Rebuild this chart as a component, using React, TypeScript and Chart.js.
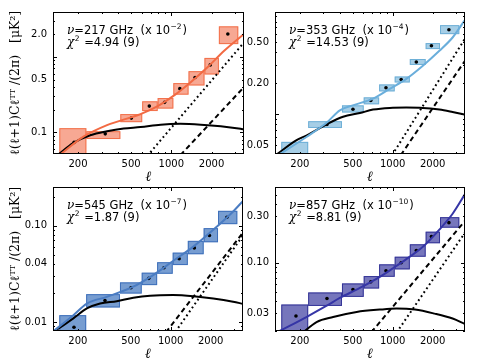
import React, { useEffect, useRef } from "react";
import { Chart, registerables } from "chart.js";

Chart.register(...registerables);

// ---- shared multipole binning ----
const binEdges = [145, 231, 415, 605, 790, 1035, 1345, 1770, 2270, 3170];
const binCenters = [187, 320, 502, 684, 890, 1158, 1505, 1956, 2649];
const xTicks = [200, 500, 1000, 2000];

// ---- 217 GHz ----
const p217Lo = [0.035, 0.082, 0.137, 0.192, 0.207, 0.316, 0.418, 0.584, 1.47];
const p217Hi = [0.114, 0.104, 0.175, 0.258, 0.285, 0.449, 0.645, 0.965, 2.52];
const p217Val = [0.074, 0.096, 0.155, 0.223, 0.25, 0.379, 0.533, 0.781, 2.0];
const p217ModelL = [145, 220, 330, 588, 784, 1049, 1396, 1865, 2487, 3500];
const p217ModelV = [0.05, 0.088, 0.125, 0.175, 0.221, 0.309, 0.462, 0.726, 1.2, 2.0];
const p217BlackL = [140, 185, 247, 330, 440, 588, 831, 1170, 1660, 2344, 3300, 3500];
const p217BlackV = [0.05, 0.073, 0.092, 0.104, 0.113, 0.118, 0.127, 0.13, 0.127, 0.121, 0.112, 0.11];
const p217DashL = [1170, 3500];
const p217DashV = [0.0503, 0.398];
const p217DotL = [660, 3500];
const p217DotV = [0.049, 1.545];
const p217YTicks = [0.1, 0.5, 2.0];
const p217YLabels = ["0.1", "0.5", "2.0"];

// ---- 353 GHz ----
const p353Lo = [0.03, 0.0735, 0.104, 0.125, 0.167, 0.204, 0.302, 0.431, 0.603];
const p353Hi = [0.0538, 0.0855, 0.122, 0.146, 0.195, 0.233, 0.345, 0.493, 0.737];
const p353Val = [0.04, 0.0794, 0.112, 0.136, 0.181, 0.218, 0.323, 0.464, 0.664];
const p353ModelL = [138, 224, 316, 400, 500, 711, 950, 1266, 1686, 2245, 2824, 3500];
const p353ModelV = [0.04, 0.06, 0.0821, 0.109, 0.122, 0.142, 0.177, 0.221, 0.297, 0.415, 0.559, 0.83];
const p353BlackL = [135, 189, 224, 316, 423, 566, 711, 950, 1266, 1686, 2245, 2824, 3500];
const p353BlackV = [0.041, 0.056, 0.062, 0.0794, 0.0944, 0.1027, 0.111, 0.1153, 0.116, 0.1153, 0.111, 0.105, 0.099];
const p353DashL = [1150, 3500];
const p353DashV = [0.04, 0.332];
const p353DotL = [990, 3500];
const p353DotV = [0.04, 0.545];
const p353YTicks = [0.05, 0.2, 0.5];
const p353YLabels = ["0.05", "0.20", "0.50"];

// ---- 545 GHz ----
const p545Lo = [0.006, 0.01413, 0.0197, 0.0241, 0.0316, 0.0389, 0.0504, 0.0671, 0.1034];
const p545Hi = [0.01175, 0.0194, 0.0257, 0.0324, 0.0416, 0.0523, 0.0693, 0.0939, 0.142];
const p545Val = [0.0088, 0.0167, 0.0226, 0.0283, 0.0365, 0.0453, 0.0586, 0.0787, 0.122];
const p545ModelL = [128, 185, 234, 330, 523, 738, 1040, 1480, 2090, 2950, 3500];
const p545ModelV = [0.0078, 0.01175, 0.0155, 0.0182, 0.0232, 0.0306, 0.0428, 0.0604, 0.0902, 0.14, 0.18];
const p545BlackL = [130, 185, 234, 294, 393, 523, 700, 1040, 1480, 2090, 2950, 3500];
const p545BlackV = [0.0078, 0.0109, 0.0138, 0.0155, 0.0164, 0.0178, 0.0187, 0.019, 0.0185, 0.0175, 0.0162, 0.0154];
const p545DashL = [920, 3500];
const p545DashV = [0.0078, 0.0845];
const p545DotL = [1085, 3500];
const p545DotV = [0.0079, 0.0792];
const p545YTicks = [0.01, 0.04, 0.1];
const p545YLabels = ["0.01", "0.04", "0.10"];

// ---- 857 GHz ----
const p857Lo = [0.015, 0.0359, 0.0445, 0.0543, 0.0717, 0.0855, 0.1154, 0.159, 0.23];
const p857Hi = [0.0371, 0.0494, 0.0612, 0.0729, 0.0963, 0.1154, 0.155, 0.209, 0.295];
const p857Val = [0.0283, 0.0428, 0.053, 0.0636, 0.0827, 0.1, 0.134, 0.186, 0.259];
const p857ModelL = [141, 224, 316, 400, 566, 800, 1000, 1266, 1686, 2245, 2824, 3500];
const p857ModelV = [0.0198, 0.0276, 0.0359, 0.0434, 0.0551, 0.0717, 0.0875, 0.109, 0.146, 0.22, 0.32, 0.51];
const p857BlackL = [205, 267, 356, 535, 800, 1067, 1470, 2066, 2824, 3500];
const p857BlackV = [0.0185, 0.0245, 0.0276, 0.0311, 0.0329, 0.0337, 0.0329, 0.0299, 0.0266, 0.0234];
const p857DashL = [690, 3500];
const p857DashV = [0.0192, 0.27];
const p857DotL = [1070, 3500];
const p857DotV = [0.0191, 0.2045];
const p857YTicks = [0.03, 0.1, 0.3];
const p857YLabels = ["0.03", "0.10", "0.30"];

const X_MIN = 130;
const X_MAX = 3500;

type Panel = {
  rect: [number, number, number, number];
  yMin: number;
  yMax: number;
  yTicks: number[];
  yLabels: string[];
  line: string;
  fill: string;
  edge: string;
  lo: number[];
  hi: number[];
  val: number[];
  modelL: number[];
  modelV: number[];
  blackL: number[];
  blackV: number[];
  dashL: number[];
  dashV: number[];
  dotL: number[];
  dotV: number[];
  freq: string;
  exp: string;
  chi: string;
  yTitle: boolean;
};

const panels: Panel[] = [
  {
    rect: [53, 11, 244, 154], yMin: 0.052, yMax: 3.9, yTicks: p217YTicks, yLabels: p217YLabels,
    line: "#f26a43", fill: "rgba(242,110,75,0.6)", edge: "rgba(242,106,67,0.9)",
    lo: p217Lo, hi: p217Hi, val: p217Val, modelL: p217ModelL, modelV: p217ModelV,
    blackL: p217BlackL, blackV: p217BlackV, dashL: p217DashL, dashV: p217DashV, dotL: p217DotL, dotV: p217DotV,
    freq: "217", exp: "\u22122", chi: "4.94 (9)", yTitle: true,
  },
  {
    rect: [275, 11, 465, 154], yMin: 0.041, yMax: 0.99, yTicks: p353YTicks, yLabels: p353YLabels,
    line: "#6aaedb", fill: "rgba(107,174,214,0.6)", edge: "rgba(107,174,214,0.95)",
    lo: p353Lo, hi: p353Hi, val: p353Val, modelL: p353ModelL, modelV: p353ModelV,
    blackL: p353BlackL, blackV: p353BlackV, dashL: p353DashL, dashV: p353DashV, dotL: p353DotL, dotV: p353DotV,
    freq: "353", exp: "\u22124", chi: "14.53 (9)", yTitle: false,
  },
  {
    rect: [53, 187, 243, 331], yMin: 0.00805, yMax: 0.251, yTicks: p545YTicks, yLabels: p545YLabels,
    line: "#4a7cc2", fill: "rgba(74,124,194,0.75)", edge: "rgba(60,110,185,0.95)",
    lo: p545Lo, hi: p545Hi, val: p545Val, modelL: p545ModelL, modelV: p545ModelV,
    blackL: p545BlackL, blackV: p545BlackV, dashL: p545DashL, dashV: p545DashV, dotL: p545DotL, dotV: p545DotV,
    freq: "545", exp: "\u22127", chi: "1.87 (9)", yTitle: true,
  },
  {
    rect: [275, 187, 465, 331], yMin: 0.0198, yMax: 0.604, yTicks: p857YTicks, yLabels: p857YLabels,
    line: "#3535a6", fill: "rgba(60,60,160,0.7)", edge: "rgba(50,50,150,0.95)",
    lo: p857Lo, hi: p857Hi, val: p857Val, modelL: p857ModelL, modelV: p857ModelV,
    blackL: p857BlackL, blackV: p857BlackV, dashL: p857DashL, dashV: p857DashV, dotL: p857DotL, dotV: p857DotV,
    freq: "857", exp: "\u221210", chi: "8.81 (9)", yTitle: false,
  },
];

const xy = (L: number[], V: number[]) => L.map((l, i) => ({ x: l, y: V[i] }));

function makeConfig(p: Panel): any {
  const [L, T, R, B] = p.rect;
  const boxPlugin = {
    id: "boxes",
    beforeDatasetsDraw(chart: any) {
      const { ctx, chartArea, scales } = chart;
      ctx.save();
      ctx.beginPath();
      ctx.rect(chartArea.left, chartArea.top, chartArea.right - chartArea.left, chartArea.bottom - chartArea.top);
      ctx.clip();
      for (let i = 0; i < binCenters.length; i++) {
        const x0 = scales.x.getPixelForValue(binEdges[i]);
        const x1 = scales.x.getPixelForValue(binEdges[i + 1]);
        const y0 = scales.y.getPixelForValue(p.hi[i]);
        const y1 = scales.y.getPixelForValue(p.lo[i]);
        ctx.fillStyle = p.fill;
        ctx.fillRect(x0, y0, x1 - x0, y1 - y0);
        ctx.strokeStyle = p.edge;
        ctx.lineWidth = 1;
        ctx.strokeRect(x0 + 0.5, y0 + 0.5, x1 - x0 - 1, y1 - y0 - 1);
      }
      ctx.restore();
    },
  };
  const framePlugin = {
    id: "frame",
    afterDraw(chart: any) {
      const { ctx, chartArea, scales } = chart;
      const { left, top, right, bottom } = chartArea;
      ctx.save();
      ctx.strokeStyle = "#000";
      ctx.lineWidth = 1;
      ctx.strokeRect(left + 0.5, top + 0.5, right - left - 1, bottom - top - 1);
      ctx.beginPath();
      for (const d of [100, 1000]) {
        for (let m = 1; m <= 9; m++) {
          const v = m * d;
          if (v < X_MIN || v > X_MAX) continue;
          const px = Math.round(scales.x.getPixelForValue(v)) + 0.5;
          const len = m === 1 ? 4 : 2;
          ctx.moveTo(px, bottom);
          ctx.lineTo(px, bottom - len);
          ctx.moveTo(px, top);
          ctx.lineTo(px, top + len);
        }
      }
      for (const d of [0.001, 0.01, 0.1, 1]) {
        for (let m = 1; m <= 9; m++) {
          const v = m * d;
          if (v < p.yMin || v > p.yMax) continue;
          const py = Math.round(scales.y.getPixelForValue(v)) + 0.5;
          const len = m === 1 ? 4 : 2;
          ctx.moveTo(left, py);
          ctx.lineTo(left + len, py);
          ctx.moveTo(right, py);
          ctx.lineTo(right - len, py);
        }
      }
      ctx.stroke();
      // annotation
      const x0 = left + 14;
      const y1 = top + 22;
      const y2 = top + 34;
      ctx.fillStyle = "#000";
      ctx.textBaseline = "alphabetic";
      ctx.textAlign = "left";
      let cx = x0;
      ctx.font = "italic 12px 'DejaVu Serif'";
      ctx.fillText("\u03bd", cx, y1);
      cx += ctx.measureText("\u03bd").width;
      ctx.font = "11.5px 'DejaVu Sans'";
      const s1 = "=" + p.freq + " GHz  (x 10";
      ctx.fillText(s1, cx, y1);
      cx += ctx.measureText(s1).width + 0.5;
      ctx.font = "7.5px 'DejaVu Sans'";
      ctx.fillText(p.exp, cx, y1 - 5);
      cx += ctx.measureText(p.exp).width + 1;
      ctx.font = "11.5px 'DejaVu Sans'";
      ctx.fillText(")", cx, y1);
      cx = x0;
      ctx.font = "italic 12px 'DejaVu Serif'";
      ctx.fillText("\u03c7", cx, y2);
      cx += ctx.measureText("\u03c7").width + 0.5;
      ctx.font = "7.5px 'DejaVu Sans'";
      ctx.fillText("2", cx, y2 - 5);
      cx += ctx.measureText("2").width + 1;
      ctx.font = "11.5px 'DejaVu Sans'";
      ctx.fillText(" =" + p.chi, cx, y2);
      ctx.restore();
    },
  };
  return {
    type: "scatter",
    data: {
      datasets: [
        { type: "line", data: xy(p.modelL, p.modelV), borderColor: p.line, borderWidth: 2, pointRadius: 0, cubicInterpolationMode: "monotone", clip: 0 },
        { type: "line", data: xy(p.blackL, p.blackV), borderColor: "#000", borderWidth: 2, pointRadius: 0, cubicInterpolationMode: "monotone", clip: 0 },
        { type: "line", data: xy(p.dashL, p.dashV), borderColor: "#000", borderWidth: 2, borderDash: [5, 3.5], pointRadius: 0, clip: 0 },
        { type: "line", data: xy(p.dotL, p.dotV), borderColor: "#000", borderWidth: 2, borderDash: [1.8, 3], pointRadius: 0, clip: 0 },
        { type: "scatter", data: xy(binCenters, p.val), backgroundColor: "#000", borderWidth: 0, pointRadius: 1.8, clip: 0 },
      ],
    },
    options: {
      responsive: false,
      animation: false,
      events: [],
      layout: { padding: { left: L - 45, top: T, right: 480 - R, bottom: 360 - B - 32 } },
      plugins: { legend: { display: false }, tooltip: { enabled: false } },
      scales: {
        x: {
          type: "logarithmic",
          min: X_MIN,
          max: X_MAX,
          position: "bottom",
          afterBuildTicks: (s: any) => { s.ticks = xTicks.map((v) => ({ value: v })); },
          afterFit: (s: any) => { s.height = 32; },
          ticks: { callback: (v: any) => String(v), font: { family: "'DejaVu Sans'", size: 10 }, color: "#000", padding: 4, maxRotation: 0, autoSkip: false },
          grid: { display: false, drawTicks: false, tickLength: 0 },
          border: { display: false },
          title: { display: true, text: "\u2113", font: { family: "'DejaVu Serif'", size: 14, style: "italic" }, color: "#000", padding: 0 },
        },
        y: {
          type: "logarithmic",
          min: p.yMin,
          max: p.yMax,
          position: "left",
          afterBuildTicks: (s: any) => { s.ticks = p.yTicks.map((v) => ({ value: v })); },
          afterFit: (s: any) => { s.width = 45; },
          ticks: {
            callback: (v: any) => { const i = p.yTicks.findIndex((t) => Math.abs(t - v) / t < 1e-6); return i >= 0 ? p.yLabels[i] : ""; },
            font: { family: "'DejaVu Sans'", size: 10 }, color: "#000", padding: 6, autoSkip: false,
          },
          grid: { display: false, drawTicks: false, tickLength: 0 },
          border: { display: false },
          title: { display: p.yTitle, text: "\u2113(\u2113+1)C\u2113\u1d40\u1d40 /(2\u03c0)   [\u03bcK\u00b2]", font: { family: "'DejaVu Serif'", size: 12.5 }, color: "#000", padding: 0 },
        },
      },
    },
    plugins: [boxPlugin, framePlugin],
  };
}

function PanelCanvas({ p }: { p: Panel }) {
  const ref = useRef<HTMLCanvasElement | null>(null);
  useEffect(() => {
    if (!ref.current) return;
    const chart = new Chart(ref.current, makeConfig(p));
    return () => chart.destroy();
  }, [p]);
  return <canvas ref={ref} width={480} height={360} style={{ position: "absolute", left: 0, top: 0, width: 480, height: 360 }} />;
}

export default function App() {
  return (
    <div style={{ position: "absolute", left: 0, top: 0, width: 480, height: 360, background: "#fff" }}>
      {panels.map((p, i) => (
        <PanelCanvas key={i} p={p} />
      ))}
    </div>
  );
}
